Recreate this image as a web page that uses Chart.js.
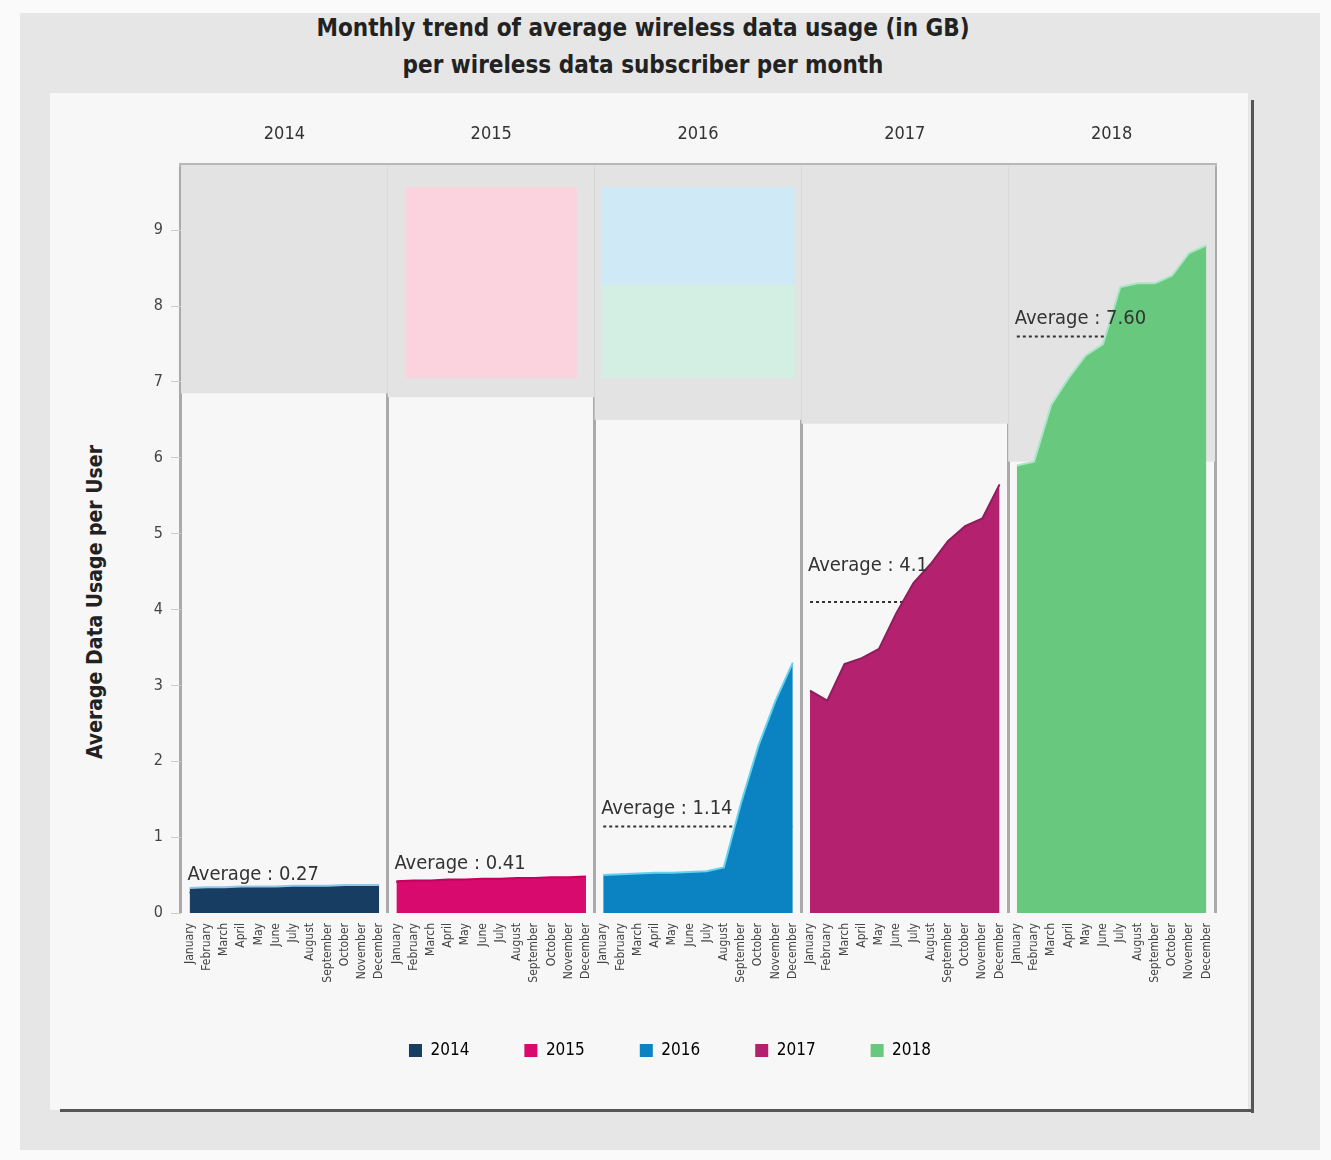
<!DOCTYPE html>
<html>
<head>
<meta charset="utf-8">
<script src="https://cdn.jsdelivr.net/npm/chart.js@4.4.1/dist/chart.umd.min.js"></script>
<style>
  html, body { margin: 0; padding: 0; background: #fafafa; width: 1331px; height: 1160px; overflow: hidden; }
  #frame { position: absolute; left: 20px; top: 13px; width: 1300px; height: 1137px; background: #e6e6e6; }
  #inner { position: absolute; left: 50px; top: 93px; width: 1198px; height: 1017px; background: #f7f7f7; }
  #vline { position: absolute; left: 1251px; top: 100px; width: 3px; height: 1013px; background: #555; }
  #hline { position: absolute; left: 60px; top: 1109px; width: 1194px; height: 3px; background: #555; }
  #title { position: absolute; left: 0; top: 10px; width: 1286px; text-align: center;
           font-family: 'DejaVu Sans Condensed', 'Liberation Sans Narrow', sans-serif; font-weight: bold;
           font-size: 24px; line-height: 37px; color: #222; }
  #ytitle { position: absolute; left: 95px; top: 602px; transform: translate(-50%, -50%) rotate(-90deg);
            white-space: nowrap; font-family: 'DejaVu Sans Condensed', sans-serif; font-weight: bold;
            font-size: 21px; color: #222; }
  canvas { position: absolute; left: 0; top: 0; }
</style>
</head>
<body>
<div id="frame"></div>
<div id="inner"></div>
<div id="vline"></div>
<div id="hline"></div>
<div id="title">Monthly trend of average wireless data usage (in GB)<br>per wireless data subscriber per month</div>
<div id="ytitle">Average Data Usage per User</div>
<canvas id="c" width="1331" height="1160"></canvas>
<script>
// ---------------- data ----------------
const months = ['January','February','March','April','May','June','July','August','September','October','November','December'];
const years = ['2014','2015','2016','2017','2018'];
const usage2014 = [0.33,0.34,0.34,0.35,0.35,0.35,0.36,0.36,0.36,0.37,0.37,0.37];
const usage2015 = [0.42,0.43,0.43,0.44,0.44,0.45,0.45,0.46,0.46,0.47,0.47,0.48];
const usage2016 = [0.50,0.51,0.52,0.53,0.53,0.54,0.55,0.60,1.45,2.20,2.80,3.30];
const usage2017 = [2.93,2.80,3.28,3.36,3.48,3.95,4.35,4.60,4.90,5.10,5.20,5.65];
const usage2018 = [5.90,5.95,6.70,7.05,7.35,7.50,8.25,8.30,8.30,8.40,8.70,8.80];
const averages = [0.27, 0.41, 1.14, 4.1, 7.6];
const averageLabels = ['0.27', '0.41', '1.14', '4.1', '7.60'];
const yTickValues = [0,1,2,3,4,5,6,7,8,9];
const yMax = 9.86;

// ---------------- styles ----------------
const fillColors = ['#173d63', '#d80a6e', '#0b82c2', '#b3216f', '#68c97e'];
const edgeColors = ['#8fc6ea', '#c4005c', '#63d2ef', '#8e1d5d', '#a9e6c6'];
const labelLift = [8, 8, 8, 26, 8];
const FONT = "'DejaVu Sans Condensed', 'Liberation Sans Narrow', sans-serif";

const series = [usage2014, usage2015, usage2016, usage2017, usage2018];
const labels = [];
years.forEach(() => months.forEach(m => labels.push(m)));

function slot(yearIdx, values) {
  const arr = new Array(years.length * months.length).fill(null);
  values.forEach((v, i) => { arr[yearIdx * months.length + i] = v; });
  return arr;
}

const datasets = [];
series.forEach((vals, i) => {
  datasets.push({
    label: years[i],
    data: slot(i, vals),
    backgroundColor: fillColors[i],
    borderColor: edgeColors[i],
    borderWidth: 2,
    fill: 'origin',
    pointRadius: 0,
    tension: 0,
    spanGaps: false,
    order: 2
  });
});
averages.forEach((a, i) => {
  datasets.push({
    label: 'avg' + years[i],
    isAverage: true,
    yearIndex: i,
    avgText: 'Average : ' + averageLabels[i],
    data: slot(i, months.map(() => a)),
    borderColor: '#333',
    borderWidth: 2,
    borderDash: [3, 3],
    fill: false,
    pointRadius: 0,
    order: 3
  });
});

// background bands per panel (value units)
const bandBottoms = [6.85, 6.8, 6.5, 6.45, 5.95];

const bandsPlugin = {
  id: 'bands',
  beforeDatasetsDraw(chart) {
    const {ctx, chartArea, scales} = chart;
    const x = scales.x, y = scales.y;
    const pw = (chartArea.right - chartArea.left) / years.length;
    ctx.save();
    years.forEach((yr, i) => {
      const l = chartArea.left + i * pw;
      ctx.fillStyle = '#e3e3e3';
      ctx.fillRect(l, chartArea.top, pw, y.getPixelForValue(bandBottoms[i]) - chartArea.top);
    });
    let l = x.getPixelForValue(13) - 8, r = x.getPixelForValue(22) + 8;
    ctx.fillStyle = '#fbd3df';
    ctx.fillRect(l, y.getPixelForValue(9.57), r - l, y.getPixelForValue(7.05) - y.getPixelForValue(9.57));
    l = x.getPixelForValue(24) - 2; r = x.getPixelForValue(35) + 2;
    ctx.fillStyle = '#cfe9f6';
    ctx.fillRect(l, y.getPixelForValue(9.57), r - l, y.getPixelForValue(8.28) - y.getPixelForValue(9.57));
    ctx.fillStyle = '#d3eee2';
    ctx.fillRect(l, y.getPixelForValue(8.28), r - l, y.getPixelForValue(7.05) - y.getPixelForValue(8.28));
    ctx.restore();
  },
  afterDatasetsDraw(chart) {
    const {ctx} = chart;
    ctx.save();
    ctx.font = '20px ' + FONT;
    ctx.fillStyle = '#333';
    ctx.textBaseline = 'bottom';
    ctx.textAlign = 'left';
    chart.data.datasets.forEach((ds, di) => {
      if (!ds.isAverage) return;
      const meta = chart.getDatasetMeta(di);
      const pts = meta.data.filter((p, k) => ds.data[k] !== null);
      if (!pts.length) return;
      ctx.fillText(ds.avgText, pts[0].x - 2, pts[0].y - labelLift[ds.yearIndex]);
    });
    ctx.restore();
  }
};

new Chart(document.getElementById('c'), {
  type: 'line',
  data: { labels, datasets },
  plugins: [bandsPlugin],
  options: {
    responsive: false,
    animation: false,
    devicePixelRatio: 1,
    layout: { padding: { left: 125, right: 116, top: 115, bottom: 91 } },
    plugins: {
      title: { display: false },
      tooltip: { enabled: false },
      legend: {
        position: 'bottom',
        labels: {
          boxWidth: 13, boxHeight: 13, padding: 55,
          color: '#444', font: { family: FONT, size: 17 },
          generateLabels(chart) {
            return chart.data.datasets.filter(ds => !ds.isAverage).map((ds, i) => ({
              text: ds.label, fillStyle: ds.backgroundColor, strokeStyle: ds.backgroundColor,
              lineWidth: 0, hidden: false, datasetIndex: i
            }));
          }
        }
      }
    },
    scales: {
      x: {
        type: 'category',
        offset: true,
        grid: { display: false, drawTicks: false },
        border: { display: false },
        ticks: { autoSkip: false, maxRotation: 90, minRotation: 90, padding: 10,
                 color: '#444', font: { family: FONT, size: 12 } },
        afterFit(s) { s.height = 74; }
      },
      x2: {
        type: 'category',
        position: 'top',
        labels: years,
        offset: true,
        grid: { display: true, offset: true, drawTicks: false, color: '#aaaaaa', lineWidth: 3 },
        border: { display: true, color: '#b8b8b8', width: 4 },
        ticks: { padding: 20, color: '#333', font: { family: FONT, size: 18 } },
        afterFit(s) { s.height = 50; }
      },
      y: {
        type: 'linear',
        min: 0,
        max: yMax,
        afterBuildTicks(s) { s.ticks = yTickValues.map(v => ({ value: v })); },
        grid: { drawOnChartArea: false, drawTicks: true, tickLength: 10, color: '#cccccc' },
        border: { display: false },
        ticks: { padding: 8, color: '#444', font: { family: FONT, size: 16 } },
        afterFit(s) { s.width = 56; }
      }
    }
  }
});
</script>
</body>
</html>
